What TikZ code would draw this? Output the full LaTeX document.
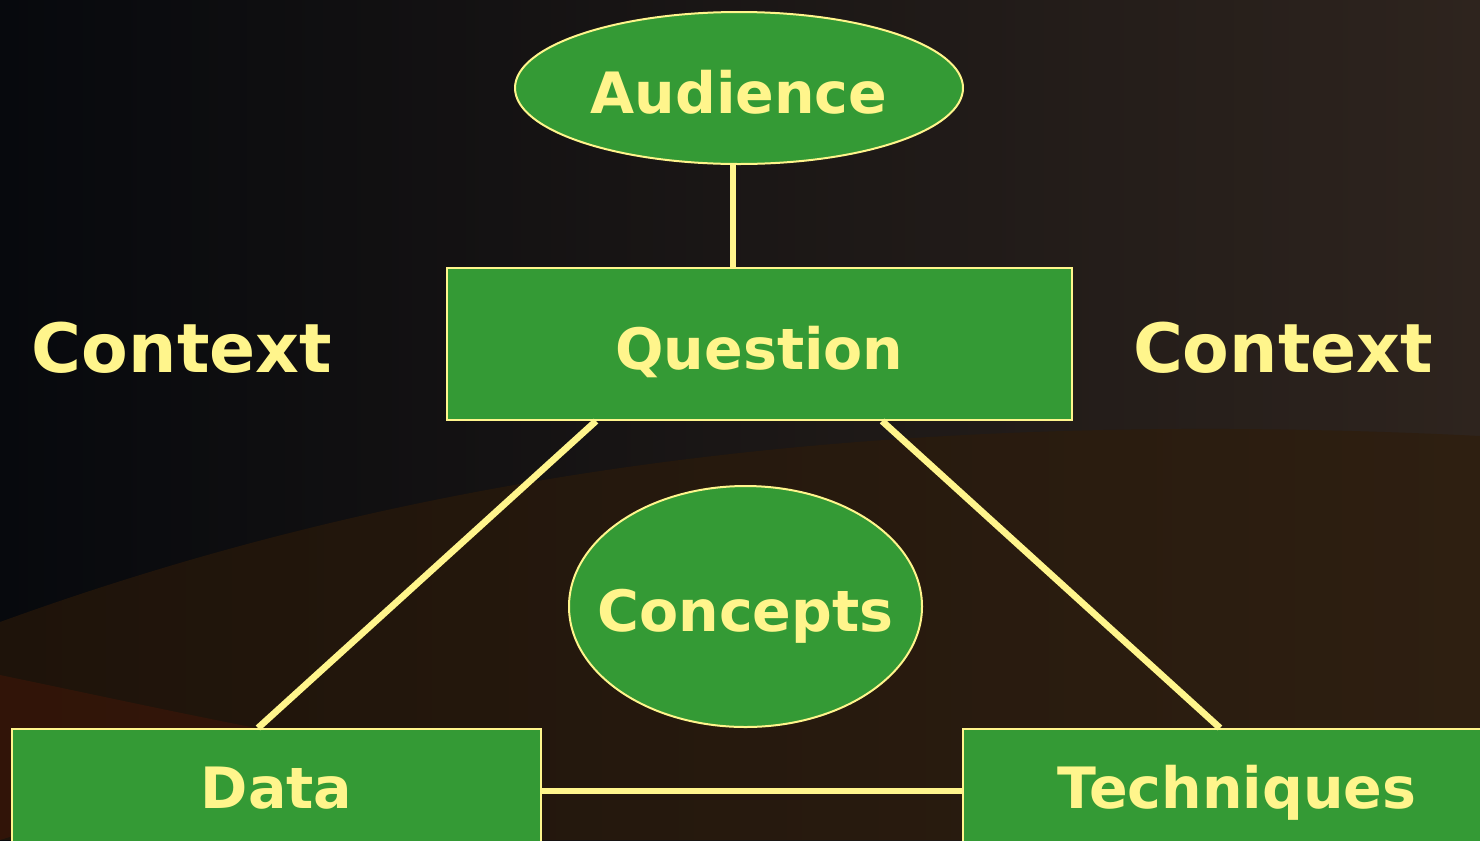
\documentclass[tikz,border=0pt]{standalone}
\usepackage{fontspec}
\setmainfont{DejaVu Sans}
\usetikzlibrary{shapes.geometric}

\definecolor{boxgreen}{RGB}{52,154,53}
\definecolor{chalk}{RGB}{255,245,140}
\definecolor{bgdark}{RGB}{7,9,13}
\definecolor{bgbrown}{RGB}{46,36,30}
\definecolor{hilldark}{RGB}{30,19,10}
\definecolor{hillmid}{RGB}{54,35,15}
\definecolor{hillright}{RGB}{46,31,17}
\definecolor{ember}{RGB}{62,22,8}

\tikzset{
  box/.style={draw=chalk, line width=1.5pt, fill=boxgreen, text=chalk, inner sep=0pt,
    font=\fontsize{42.75pt}{50pt}\selectfont\bfseries, text height=37.5pt, text depth=0pt},
  blob/.style={box, ellipse},
  link/.style={draw=chalk, line width=5pt},
  ctx/.style={text=chalk, inner sep=0pt, anchor=base,
    font=\fontsize{51pt}{60pt}\selectfont\bfseries},
}

\begin{document}
\begin{tikzpicture}[x=0.75pt,y=0.75pt,yscale=-1,xscale=1]
\useasboundingbox (0,0) rectangle (1480,840);

% background
\shade[left color=bgdark, right color=bgbrown] (0,0) rectangle (1480,840);
\shade[left color=hilldark, middle color=hillmid, right color=hillright]
  (0,622) .. controls (350,495) and (800,402) .. (1480,436) -- (1480,840) -- (0,840) -- cycle;
\fill[ember, opacity=0.6] (0,675) .. controls (120,700) and (220,722) .. (320,740) -- (0,840) -- cycle;

% shapes
\node[blob, minimum width=336pt, minimum height=114pt] (aud) at (739,88) {Audience};
\node[box, minimum width=468.75pt, minimum height=114pt] (q) at (759.5,344) {Question};
\node[blob, minimum width=264.75pt, minimum height=180.75pt] (con) at (745.5,606.5) {\makebox[0pt]{Concepts}};
\node[box, minimum width=396.75pt, minimum height=93pt, text height=25.5pt] (dat) at (276.5,791) {Data};
\node[box, minimum width=411pt, minimum height=93pt, text height=25.5pt] (tech) at (1237,791) {Techniques};

% side labels
\node[ctx] (ctxw) at (182,372) {Context};
\node[ctx] (ctxe) at (1283,372) {Context};

% links
\draw[link] ([xshift=-4.5pt]aud.south) -- ([xshift=-4.5pt]aud.south |- q.north);
\draw[link] ([xshift=-122.6pt]q.south) -- ([xshift=-13.9pt]dat.north);
\draw[link] ([xshift=91.9pt]q.south) -- ([xshift=-12.75pt]tech.north);
\draw[link] (dat.east) -- (tech.west);

\end{tikzpicture}
\end{document}
